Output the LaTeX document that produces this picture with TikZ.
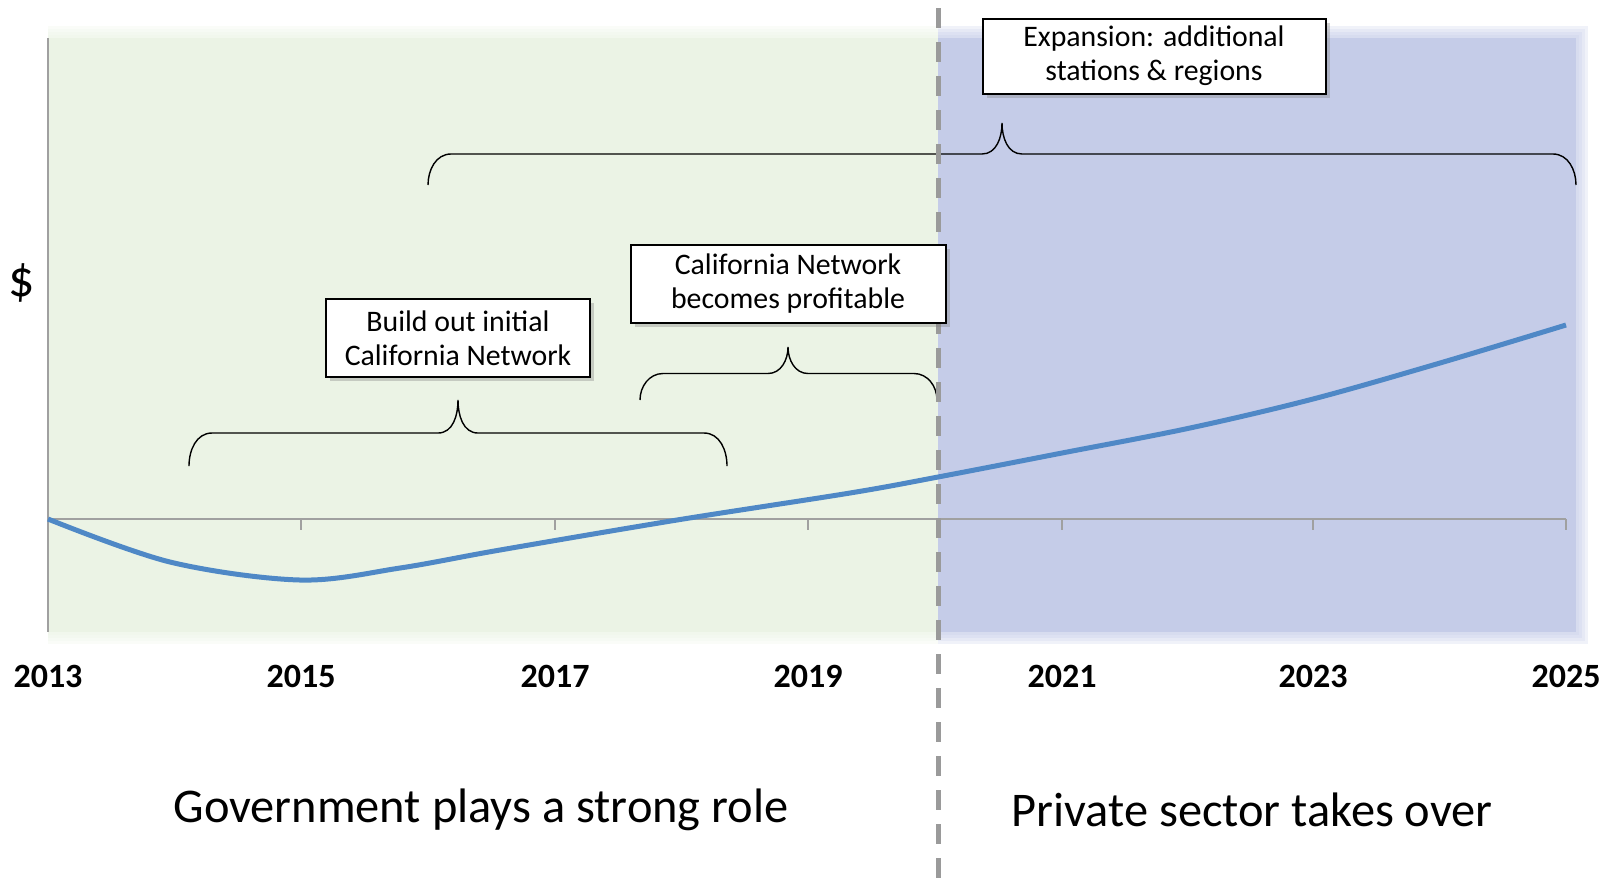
\documentclass[tikz,border=0pt]{standalone}
\usepackage{fontspec}
\setmainfont{Carlito}
\usetikzlibrary{shadows}
\definecolor{govgreen}{HTML}{EBF3E5}
\definecolor{privblue}{HTML}{C5CCE8}
\definecolor{axisgray}{HTML}{A0A0A0}
\definecolor{dashgray}{HTML}{9A9A9A}
\definecolor{costblue}{HTML}{4F88C6}
\tikzset{
  phasebox/.style={draw,line width=1pt,fill=white,align=center,
    font=\fontsize{14.9}{17}\selectfont,minimum height=39pt,inner sep=2pt,
    drop shadow={opacity=.35,shadow xshift=2pt,shadow yshift=-2pt}},
  bracestyle/.style={line width=.7pt},
  yearlabel/.style={font=\fontsize{17}{19}\selectfont\bfseries},
  sidelabel/.style={font=\fontsize{24.2}{27}\selectfont}
}
% #1 left x, #2 right x, #3 tip x, #4 end y, #5 half height
\newcommand{\phbrace}[5]{%
  \draw[bracestyle] (#1,#4) to[out=90,in=180] (#1+23,#4-#5) -- (#3-20,#4-#5)
    to[out=0,in=-90] (#3,#4-2*#5) to[out=-90,in=180] (#3+20,#4-#5) -- (#2-23,#4-#5)
    to[out=0,in=90] (#2,#4);}
\begin{document}
\begin{tikzpicture}[x=.5pt,y=-.5pt]
  \useasboundingbox (0,0) rectangle (1610,891);
  \foreach \w in {3,6,9,12} \draw[govgreen,opacity=.25,line width=\w pt] (48,38) -- (938,38) (48,632) -- (938,632);
  \fill[govgreen] (48,38) rectangle (938,632);
  \foreach \w in {3,6,9,12} \draw[privblue,opacity=.25,line width=\w pt] (938,38) -- (1576,38) -- (1576,632) -- (938,632);
  \fill[privblue] (938,38) rectangle (1576,632);
  \draw[axisgray,line width=1pt] (48,38) -- (48,632);
  \draw[axisgray,line width=1pt] (48,519) -- (1566,519);
  \draw[axisgray,line width=1pt] (301,519) -- (301,530) (555,519) -- (555,530) (808,519) -- (808,530)
    (1062,519) -- (1062,530) (1313,519) -- (1313,530) (1566,519) -- (1566,530);
  \draw[costblue,line width=2.5pt] plot[smooth,tension=.55] coordinates{(48,519) (170,562) (300,580) (400,568)
    (500,550) (677,520) (850,493) (938,477) (1062,453) (1190,428) (1313,399) (1440,363) (1566,325)};
  \phbrace{189}{727}{458}{466}{33}
  \phbrace{640}{937}{788}{400}{26.5}
  \phbrace{428}{1576}{1002}{185}{31}
  \draw[dashgray,line width=2.5pt,dash pattern=on 10pt off 7pt] (938,8) -- (938,891);
  \node[phasebox,minimum width=132pt] (buildbox) at (458,338) {Build out initial\\California Network};
  \node[phasebox,minimum width=157.5pt] (profitbox) at (788,284) {California Network\\becomes profitable};
  \node[phasebox,minimum width=171.5pt,minimum height=37.5pt] (expbox) at (1154,56) {Expansion: additional\\stations \& regions};
  \node[font=\fontsize{26}{28}\selectfont] (dollar) at (22,283) {\$};
  \node[yearlabel] (y2013) at (48,676) {2013};
  \node[yearlabel] (y2015) at (301,676) {2015};
  \node[yearlabel] (y2017) at (555,676) {2017};
  \node[yearlabel] (y2019) at (808,676) {2019};
  \node[yearlabel] (y2021) at (1062,676) {2021};
  \node[yearlabel] (y2023) at (1313,676) {2023};
  \node[yearlabel] (y2025) at (1566,676) {2025};
  \node[sidelabel] (govlabel) at (481,810) {Government plays a strong role};
  \node[sidelabel] (privlabel) at (1252,810) {Private sector takes over};
\end{tikzpicture}
\end{document}
